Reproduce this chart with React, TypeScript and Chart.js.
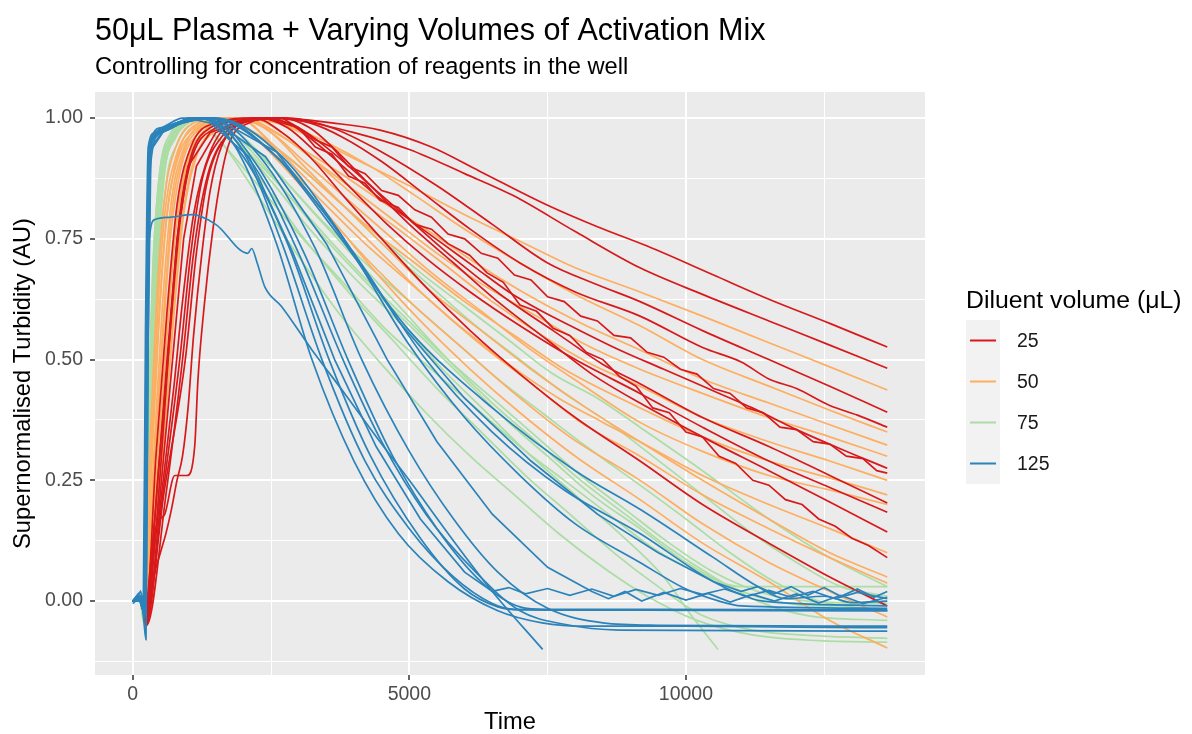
import React, { useEffect, useRef } from 'react';
import { Chart, registerables } from 'chart.js';

Chart.register(...registerables);

type Curve = number[][];

const chartTitle = '50μL Plasma + Varying Volumes of Activation Mix';
const chartSubtitle = 'Controlling for concentration of reagents in the well';
const xAxisTitle = 'Time';
const yAxisTitle = 'Supernormalised Turbidity (AU)';
const legendTitle = 'Diluent volume (μL)';

const groupLabels = ['25', '50', '75', '125'];
const groupColors = ['#D7191C', '#FDAE61', '#ABDDA4', '#2B83BA'];
// stacking: lower value drawn on top
const groupDrawOrder = [2, 3, 4, 1];

const xGridValues = [0, 2500, 5000, 7500, 10000, 12500];
const xTickLabels = ['0', '', '5000', '', '10000', ''];
const yGridValues = [-0.125, 0, 0.125, 0.25, 0.375, 0.5, 0.625, 0.75, 0.875, 1.0];
const yTickLabels = ['', '0.00', '', '0.25', '', '0.50', '', '0.75', '', '1.00'];

// Diluent 25 µL (red)
const curves25: Curve[] = [
  [[0,0],[170,0],[250,-0.04],[400,0.12],[550,0.35],[700,0.6],[850,0.8],[1050,0.92],[1400,0.98],[2000,0.995],[2700,1.0],[3600,0.99],[4470,0.975],[5400,0.94],[6270,0.89],[7490,0.82],[8400,0.775],[9300,0.735],[10500,0.675],[11500,0.625],[12600,0.575],[13640,0.526]],
  [[0,0],[160,0],[240,-0.05],[500,0.2],[750,0.45],[900,0.62],[1100,0.8],[1400,0.93],[1800,0.99],[2400,1.0],[3000,0.995],[4000,0.97],[5000,0.935],[6000,0.885],[6870,0.84],[8000,0.765],[9170,0.69],[10300,0.635],[11500,0.58],[12600,0.53],[13640,0.482]],
  [[0,0],[170,0],[250,-0.04],[520,0.2],[850,0.5],[1050,0.72],[1250,0.87],[1600,0.96],[2100,0.995],[2800,1.0],[3600,0.98],[4500,0.93],[5500,0.86],[6500,0.78],[7500,0.7],[8400,0.655],[9170,0.62],[10300,0.56],[11500,0.5],[12600,0.445],[13640,0.391]],
  [[0,0],[160,0],[240,-0.05],[400,0.14],[500,0.17],[580,0.18],[760,0.26],[980,0.26],[1120,0.32],[1180,0.46],[1300,0.62],[1450,0.77],[1600,0.88],[1750,0.95],[2100,0.99],[2600,1.0],[3200,0.99],[3800,0.96],[4500,0.91],[5300,0.84],[6100,0.77],[7000,0.7],[8000,0.64],[9170,0.59],[10300,0.525],[11000,0.495],[11500,0.46],[12000,0.44],[12600,0.405],[13100,0.385],[13640,0.36]],
  [[0,0],[150,0],[230,-0.04],[420,0.2],[620,0.5],[800,0.75],[1000,0.9],[1400,0.97],[2000,0.995],[2400,1.0],[2700,0.99],[3000,0.98],[3300,0.955],[3600,0.94],[3900,0.9],[4200,0.885],[4500,0.85],[4800,0.84],[5100,0.81],[5400,0.795],[5700,0.76],[6000,0.75],[6300,0.72],[6600,0.71],[6900,0.675],[7200,0.665],[7500,0.63],[7800,0.62],[8100,0.59],[8400,0.58],[8700,0.55],[9000,0.545],[9300,0.515],[9600,0.505],[9900,0.48],[10200,0.47],[10500,0.44],[10800,0.43],[11100,0.4],[11400,0.39],[11700,0.36],[12000,0.355],[12300,0.33],[12600,0.325],[12900,0.3],[13200,0.295],[13450,0.27],[13640,0.265]],
  [[0,0],[160,0],[240,-0.03],[450,0.25],[650,0.52],[850,0.78],[1050,0.91],[1500,0.98],[2200,1.0],[2800,0.99],[3300,0.95],[3800,0.9],[4400,0.84],[5000,0.79],[5600,0.74],[6200,0.69],[6800,0.64],[7400,0.6],[8000,0.565],[8800,0.52],[9600,0.48],[10400,0.44],[11200,0.4],[12000,0.355],[12800,0.315],[13640,0.275]],
  [[0,0],[170,0],[250,-0.05],[600,0.22],[900,0.5],[1100,0.72],[1350,0.88],[1750,0.97],[2400,1.0],[3000,0.98],[3600,0.93],[4300,0.86],[5000,0.79],[5800,0.71],[6700,0.63],[7600,0.56],[8500,0.49],[9170,0.45],[10300,0.38],[11500,0.32],[12600,0.26],[13640,0.203]],
  [[0,0],[160,0],[240,-0.04],[560,0.22],[950,0.5],[1150,0.72],[1350,0.87],[1750,0.97],[2300,1.0],[2800,0.98],[3300,0.93],[3900,0.86],[4600,0.78],[5300,0.71],[6100,0.64],[7000,0.57],[8000,0.5],[9170,0.43],[10300,0.36],[11500,0.29],[12600,0.235],[13640,0.184]],
  [[0,0],[170,0.005],[250,-0.05],[380,0.05],[500,0.1],[600,0.14],[700,0.19],[800,0.25],[900,0.3],[1000,0.4],[1100,0.55],[1250,0.72],[1400,0.85],[1600,0.94],[2000,0.99],[2700,1.0],[3200,0.98],[3700,0.93],[4300,0.86],[5000,0.78],[5800,0.7],[6600,0.62],[7500,0.54],[8300,0.47],[9170,0.41],[10300,0.34],[11500,0.27],[12600,0.205],[13640,0.143]],
  [[0,0],[160,0],[240,-0.04],[480,0.2],[720,0.5],[920,0.75],[1150,0.9],[1500,0.97],[2100,0.995],[2700,1.0],[3000,0.98],[3300,0.94],[3600,0.925],[3900,0.88],[4200,0.865],[4470,0.83],[4800,0.815],[5100,0.78],[5400,0.77],[5700,0.74],[6090,0.716],[6400,0.68],[6700,0.66],[7000,0.613],[7300,0.6],[7600,0.565],[7900,0.55],[8200,0.515],[8500,0.5],[8800,0.465],[9100,0.445],[9400,0.4],[9700,0.39],[10000,0.35],[10300,0.34],[10600,0.3],[10900,0.285],[11210,0.25],[11500,0.24],[11800,0.21],[12100,0.2],[12400,0.17],[12700,0.155],[13000,0.13],[13300,0.115],[13640,0.09]],
  [[0,0],[150,0],[230,-0.04],[420,0.3],[620,0.6],[800,0.82],[1050,0.94],[1500,0.99],[2200,1.0],[2700,0.97],[3200,0.92],[3800,0.84],[4500,0.75],[5300,0.65],[6100,0.56],[7000,0.47],[8000,0.38],[9170,0.29],[10300,0.2],[11500,0.12],[12600,0.05],[13640,-0.01]],
];

// Diluent 50 µL (orange)
const curves50: Curve[] = [
  [[0,0],[160,0],[230,-0.02],[380,0.25],[520,0.5],[680,0.75],[880,0.9],[1200,0.97],[1800,1.0],[2600,0.99],[3400,0.95],[4200,0.905],[5000,0.86],[6000,0.8],[7000,0.745],[8000,0.69],[9170,0.64],[10300,0.59],[11500,0.535],[12600,0.485],[13640,0.437]],
  [[0,0],[150,0.01],[220,-0.02],[340,0.3],[460,0.55],[600,0.78],[800,0.91],[1200,0.98],[1800,1.0],[2400,0.98],[3000,0.94],[3700,0.89],[4470,0.83],[5300,0.77],[6200,0.7],[7200,0.63],[8200,0.57],[9170,0.52],[10300,0.46],[11500,0.41],[12600,0.365],[13640,0.323]],
  [[0,0],[160,0],[230,-0.03],[420,0.25],[580,0.5],[750,0.75],[950,0.9],[1300,0.97],[2000,1.0],[2600,0.97],[3200,0.92],[3900,0.86],[4700,0.79],[5500,0.72],[6400,0.65],[7300,0.59],[8200,0.53],[9170,0.48],[10300,0.43],[11500,0.38],[12600,0.34],[13640,0.3]],
  [[0,0],[170,0],[240,-0.03],[480,0.25],[660,0.5],[830,0.73],[1050,0.89],[1450,0.97],[2100,1.0],[2700,0.97],[3300,0.91],[4000,0.84],[4800,0.77],[5600,0.7],[6500,0.62],[7400,0.55],[8300,0.49],[9170,0.445],[10300,0.38],[11500,0.33],[12600,0.29],[13640,0.25]],
  [[0,0],[150,0.01],[210,-0.02],[330,0.3],[450,0.6],[580,0.8],[780,0.92],[1100,0.98],[1600,1.0],[2200,0.97],[2800,0.92],[3500,0.85],[4300,0.77],[5100,0.7],[6000,0.62],[6900,0.55],[7800,0.48],[9170,0.4],[10300,0.34],[11500,0.29],[12600,0.255],[13640,0.22]],
  [[0,0],[160,0],[230,-0.03],[400,0.3],[550,0.58],[700,0.8],[900,0.92],[1250,0.98],[1900,1.0],[2500,0.97],[3100,0.91],[3800,0.84],[4600,0.76],[5400,0.68],[6300,0.6],[7200,0.52],[8100,0.45],[9170,0.37],[10300,0.31],[11500,0.26],[12600,0.23],[13640,0.2]],
  [[0,0],[150,0.01],[210,-0.02],[310,0.32],[430,0.62],[570,0.83],[780,0.94],[1100,0.99],[1600,1.0],[2100,0.97],[2700,0.91],[3400,0.83],[4200,0.74],[5000,0.66],[5900,0.57],[6800,0.49],[7700,0.42],[8500,0.37],[9170,0.33],[10300,0.26],[11500,0.2],[12600,0.15],[13640,0.1]],
  [[0,0],[170,0],[240,-0.03],[450,0.28],[620,0.55],[790,0.78],[1000,0.91],[1350,0.98],[1900,1.0],[2400,0.96],[3000,0.89],[3700,0.81],[4500,0.72],[5300,0.63],[6200,0.54],[7100,0.46],[8100,0.37],[9170,0.3],[10300,0.22],[11500,0.15],[12600,0.09],[13640,0.037]],
  [[0,0],[150,0.01],[220,-0.02],[350,0.3],[480,0.6],[620,0.8],[830,0.93],[1200,0.99],[1700,1.0],[2200,0.96],[2800,0.89],[3500,0.8],[4300,0.7],[5100,0.61],[6000,0.52],[6900,0.43],[7900,0.34],[9170,0.25],[10300,0.16],[11500,0.08],[12600,0.02],[13640,-0.033]],
  [[0,0],[160,0],[230,-0.03],[500,0.3],[700,0.6],[880,0.82],[1100,0.93],[1450,0.985],[1900,1.0],[2400,0.96],[2900,0.88],[3600,0.79],[4400,0.68],[5200,0.58],[6100,0.48],[7000,0.39],[8000,0.3],[9170,0.21],[10300,0.12],[11500,0.04],[12600,-0.04],[13640,-0.097]],
  [[0,0],[160,0.005],[230,-0.02],[380,0.3],[530,0.6],[690,0.82],[900,0.93],[1300,0.99],[2000,1.0],[2500,0.97],[3100,0.9],[3800,0.82],[4600,0.73],[5400,0.64],[6300,0.56],[7200,0.48],[8200,0.4],[9170,0.33],[10300,0.25],[11500,0.17],[12600,0.1],[13640,0.05]],
  [[0,0],[170,0],[240,-0.03],[540,0.3],[750,0.6],[920,0.8],[1150,0.92],[1500,0.98],[2100,1.0],[2800,0.985],[3500,0.95],[4300,0.9],[5100,0.84],[6000,0.77],[7000,0.7],[8000,0.635],[9170,0.57],[10300,0.5],[11500,0.445],[12600,0.395],[13640,0.35]],
];

// Diluent 75 µL (green)
const curves75: Curve[] = [
  [[0,0],[140,0],[200,-0.04],[300,0.3],[410,0.65],[540,0.87],[750,0.96],[1000,0.99],[1400,1.0],[2000,0.98],[2800,0.92],[3600,0.84],[4400,0.76],[5200,0.68],[6000,0.61],[6800,0.54],[7600,0.47],[8400,0.42],[9170,0.36],[10300,0.27],[11500,0.17],[12600,0.09],[13640,0.03]],
  [[0,0],[130,0.01],[190,-0.03],[270,0.35],[370,0.68],[490,0.88],[700,0.96],[1000,0.99],[1300,1.0],[1900,0.97],[2600,0.89],[3400,0.79],[4200,0.7],[5000,0.62],[5800,0.54],[6600,0.46],[7400,0.39],[8200,0.32],[9170,0.24],[10000,0.17],[10800,0.1],[11600,0.04],[12400,0.0],[13640,-0.02]],
  [[0,0],[140,0],[210,-0.05],[310,0.3],[420,0.66],[550,0.88],[760,0.96],[1000,0.99],[1200,1.0],[1800,0.96],[2500,0.87],[3200,0.77],[4000,0.67],[4800,0.58],[5600,0.48],[6400,0.39],[7200,0.3],[8000,0.22],[8800,0.14],[9600,0.05],[10100,-0.03],[10580,-0.1]],
  [[0,0],[150,0],[210,-0.04],[320,0.32],[440,0.66],[570,0.88],[780,0.96],[1000,0.99],[1200,1.0],[1700,0.96],[2400,0.86],[3100,0.75],[3900,0.64],[4700,0.54],[5500,0.44],[6300,0.35],[7100,0.26],[7900,0.18],[8700,0.1],[9500,0.03],[10300,-0.03],[11200,-0.06],[12400,-0.072],[13640,-0.077]],
  [[0,0],[140,0.01],[200,-0.03],[280,0.3],[380,0.65],[500,0.87],[700,0.96],[1000,0.99],[1300,1.0],[1900,0.96],[2600,0.87],[3400,0.76],[4300,0.65],[5100,0.56],[5900,0.47],[6700,0.38],[7500,0.3],[8300,0.22],[9170,0.15],[10000,0.08],[10800,0.03],[11600,0.0],[12600,-0.01],[13640,0.0]],
  [[0,0],[130,0],[190,-0.04],[270,0.35],[360,0.68],[480,0.88],[680,0.96],[900,0.99],[1100,1.0],[1600,0.95],[2200,0.85],[2900,0.73],[3700,0.6],[4500,0.49],[5300,0.39],[6100,0.3],[6900,0.22],[7700,0.14],[8500,0.07],[9300,0.01],[10200,-0.04],[11200,-0.07],[12400,-0.082],[13640,-0.085]],
  [[0,0],[150,0],[220,-0.03],[340,0.3],[460,0.64],[600,0.86],[820,0.95],[1100,0.99],[1500,1.0],[2200,0.97],[3000,0.9],[3800,0.82],[4600,0.73],[5400,0.65],[6200,0.57],[7000,0.5],[7800,0.43],[8600,0.37],[9400,0.3],[10300,0.22],[11200,0.14],[12000,0.08],[12800,0.03],[13640,0.01]],
  [[0,0],[140,0],[200,-0.04],[290,0.32],[390,0.66],[510,0.87],[720,0.96],[950,0.99],[1200,1.0],[1800,0.96],[2500,0.88],[3300,0.78],[4100,0.68],[4900,0.59],[5700,0.5],[6500,0.42],[7300,0.34],[8100,0.26],[8900,0.19],[9700,0.12],[10500,0.06],[11300,0.02],[12200,0.0],[13640,-0.005]],
  [[0,0],[140,0.01],[210,-0.03],[310,0.3],[420,0.65],[550,0.87],[770,0.96],[1000,0.99],[1300,1.0],[1800,0.97],[2500,0.9],[3300,0.8],[4100,0.7],[4900,0.6],[5700,0.5],[6500,0.41],[7300,0.33],[8100,0.25],[8900,0.18],[9700,0.11],[10500,0.05],[11300,0.0],[12200,-0.03],[13640,-0.04]],
  [[0,0],[130,0],[190,-0.03],[270,0.35],[370,0.7],[490,0.89],[690,0.97],[900,0.99],[1000,1.0],[1500,0.96],[2200,0.87],[3000,0.76],[3800,0.66],[4600,0.56],[5400,0.48],[6200,0.4],[7000,0.32],[7800,0.25],[8600,0.18],[9400,0.11],[10200,0.06],[11000,0.03],[12000,0.03],[13640,0.03]],
];

// Diluent 125 µL (blue)
const curves125: Curve[] = [
  [[0,0],[100,0.01],[170,0],[210,-0.02],[250,0.6],[300,0.93],[450,0.97],[800,0.99],[1200,1.0],[1600,0.98],[2000,0.91],[2600,0.74],[3240,0.5],[4000,0.29],[4800,0.14],[5700,0.04],[6600,-0.02],[7400,-0.045],[8200,-0.052],[10000,-0.052],[12000,-0.054],[13640,-0.055]],
  [[0,-0.005],[120,0.005],[180,-0.01],[220,-0.03],[260,0.5],[310,0.94],[500,0.98],[900,1.0],[1300,1.0],[2000,0.93],[2700,0.74],[3420,0.5],[4200,0.29],[5000,0.15],[5800,0.05],[6500,-0.005],[6900,-0.017],[9000,-0.017],[13640,-0.018]],
  [[0,0],[140,0.02],[200,0],[240,-0.02],[280,0.55],[330,0.94],[600,0.98],[1000,1.0],[1400,0.99],[2100,0.92],[2900,0.72],[3650,0.5],[4400,0.32],[5200,0.17],[6000,0.06],[6500,0.02],[6800,0.028],[7100,0.015],[7500,0.026],[7900,0.012],[8300,0.025],[8700,0.01],[9100,0.024],[9500,0.012],[9900,0.026],[10300,0.014],[10700,0.025],[11100,0.01],[11500,0.022],[11900,0.008],[12300,0.02],[12700,0.005],[13100,0.018],[13640,0.005]],
  [[0,0],[150,0.01],[200,-0.04],[240,-0.08],[270,0.4],[320,0.9],[500,0.97],[900,0.99],[1400,1.0],[2200,0.91],[3100,0.72],[3890,0.5],[4700,0.3],[5500,0.15],[6300,0.04],[7000,-0.012],[7500,-0.018],[13640,-0.02]],
  [[0,0],[130,0.005],[190,-0.02],[240,0.3],[290,0.9],[400,0.97],[800,0.99],[1400,1.0],[2300,0.92],[3300,0.73],[4140,0.5],[5000,0.31],[5800,0.17],[6600,0.06],[7500,-0.015],[8500,-0.045],[9500,-0.05],[13640,-0.052]],
  [[0,0],[150,0.01],[200,-0.02],[250,0.4],[300,0.75],[400,0.79],[700,0.795],[1070,0.8],[1500,0.78],[2080,0.72],[2150,0.73],[2250,0.7],[2390,0.65],[2690,0.61],[3240,0.52],[3830,0.43],[4470,0.33],[5000,0.25],[5700,0.14],[6500,0.02],[7410,-0.1]],
  [[0,0],[100,0.015],[180,0.005],[230,-0.03],[270,0.6],[320,0.95],[600,0.98],[1000,1.0],[1400,1.0],[2400,0.92],[3500,0.74],[4600,0.5],[5500,0.33],[6500,0.18],[7500,0.07],[8300,0.02],[8600,0.005],[8900,0.02],[9200,0.0],[9600,0.018],[10000,0.002],[10400,0.016],[10800,-0.002],[11200,0.014],[11600,0.0],[12000,0.015],[12400,-0.004],[12800,0.012],[13200,-0.005],[13640,0.008]],
  [[0,0],[150,0],[210,-0.03],[260,0.5],[310,0.93],[500,0.97],[900,0.99],[1500,1.0],[2600,0.92],[3800,0.75],[5000,0.53],[6000,0.38],[7000,0.26],[8000,0.16],[9170,0.08],[10000,0.025],[10600,0.0],[11000,-0.01],[13640,-0.015]],
  [[0,0],[160,0.005],[220,-0.02],[270,0.55],[320,0.94],[600,0.98],[1000,0.995],[1500,1.0],[2700,0.92],[4000,0.72],[5300,0.5],[6500,0.35],[7800,0.23],[9170,0.14],[10500,0.04],[11200,0.005],[11400,0.0],[13640,-0.01]],
  [[0,0],[140,0.01],[200,-0.01],[250,0.5],[300,0.93],[500,0.97],[900,0.99],[1400,1.0],[2500,0.93],[3700,0.76],[5000,0.56],[6500,0.4],[8000,0.27],[9170,0.19],[10500,0.09],[11300,0.03],[11800,0.005],[12500,0.01],[13000,-0.003],[13640,0.0]],
  [[0,0],[120,0],[200,-0.02],[240,0.5],[290,0.93],[450,0.97],[800,0.99],[1300,1.0],[2200,0.9],[3000,0.72],[3800,0.5],[4500,0.33],[5300,0.18],[6200,0.06],[7000,-0.02],[7800,-0.048],[8800,-0.06],[13640,-0.062]],
  [[0,0],[110,0.01],[190,-0.02],[230,0.55],[280,0.94],[400,0.97],[800,0.99],[1200,1.0],[2000,0.92],[2800,0.74],[3550,0.5],[4300,0.3],[5200,0.13],[6000,0.025],[6600,-0.012],[7000,-0.018],[13640,-0.02]],
  [[0,0],[130,0],[210,-0.03],[260,0.5],[310,0.93],[600,0.98],[1100,1.0],[1500,1.0],[2600,0.93],[3700,0.77],[4800,0.58],[6000,0.42],[7200,0.29],[8400,0.18],[9500,0.1],[10500,0.04],[11000,0.02],[11300,0.03],[11600,0.015],[11900,0.03],[12200,0.012],[12500,0.028],[12800,0.01],[13100,0.025],[13400,0.008],[13640,0.02]],
];

const allGroups = [curves25, curves50, curves75, curves125];
// curves whose raw readings are jagged (drawn with straight segments)
const noisyCurves = [[4, 9], [], [], [2, 6, 12]];

const FONT = '"Liberation Sans", Arial, Helvetica, sans-serif';

const ggPlugin = {
  id: 'ggDecor',
  beforeDraw(chart: any) {
    const { ctx, chartArea: a } = chart;
    ctx.save();
    ctx.fillStyle = '#FFFFFF';
    ctx.fillRect(0, 0, chart.width, chart.height);
    ctx.fillStyle = '#EBEBEB';
    ctx.fillRect(a.left, a.top, a.right - a.left, a.bottom - a.top);
    ctx.restore();
  },
  afterDraw(chart: any) {
    const { ctx, chartArea: a } = chart;
    ctx.save();
    ctx.textBaseline = 'alphabetic';
    ctx.fillStyle = '#000000';
    ctx.textAlign = 'left';
    ctx.font = `30.5px ${FONT}`;
    ctx.fillText(chartTitle, a.left, 40);
    ctx.font = `23.7px ${FONT}`;
    ctx.fillText(chartSubtitle, a.left, 74);
    ctx.textAlign = 'center';
    ctx.font = `23.7px ${FONT}`;
    ctx.fillText(xAxisTitle, (a.left + a.right) / 2, 729);
    ctx.save();
    ctx.translate(30, (a.top + a.bottom) / 2);
    ctx.rotate(-Math.PI / 2);
    ctx.fillText(yAxisTitle, 0, 0);
    ctx.restore();
    const lx = 966;
    ctx.textAlign = 'left';
    ctx.font = `24.8px ${FONT}`;
    ctx.fillText(legendTitle, lx, 308);
    const keyW = 34, keyH = 41, top0 = 320;
    ctx.fillStyle = '#F2F2F2';
    ctx.fillRect(lx, top0, keyW, keyH * groupLabels.length);
    groupLabels.forEach((lab, i) => {
      const cy = top0 + keyH * i + keyH / 2;
      ctx.strokeStyle = groupColors[i];
      ctx.lineWidth = 2;
      ctx.beginPath();
      ctx.moveTo(lx + 4, cy);
      ctx.lineTo(lx + keyW - 4, cy);
      ctx.stroke();
      ctx.fillStyle = '#1A1A1A';
      ctx.font = `19.5px ${FONT}`;
      ctx.textBaseline = 'middle';
      ctx.fillText(lab, lx + keyW + 17, cy + 1);
      ctx.textBaseline = 'alphabetic';
    });
    ctx.restore();
  },
};

export default function App() {
  const ref = useRef<HTMLCanvasElement | null>(null);
  useEffect(() => {
    if (!ref.current) return;
    const datasets: any[] = [];
    allGroups.forEach((curves, g) => {
      curves.forEach((c, k) => {
        const noisy = noisyCurves[g].includes(k);
        datasets.push({
          label: `${groupLabels[g]}-${k}`,
          data: c.map(([x, y]) => ({ x, y })),
          borderColor: groupColors[g],
          backgroundColor: groupColors[g],
          borderWidth: 1.7,
          pointRadius: 0,
          fill: false,
          cubicInterpolationMode: noisy ? 'default' : 'monotone',
          tension: 0,
          order: groupDrawOrder[g],
        });
      });
    });
    const isMajorX = (v: number) => xTickLabels[xGridValues.indexOf(v)] !== '';
    const isMajorY = (v: number) => {
      const i = yGridValues.findIndex((g) => Math.abs(g - v) < 1e-9);
      return i >= 0 && yTickLabels[i] !== '';
    };
    const chart = new Chart(ref.current, {
      type: 'line',
      data: { datasets },
      options: {
        animation: false,
        responsive: false,
        devicePixelRatio: 1,
        parsing: false as any,
        layout: { padding: { left: 0, right: 267, top: 92, bottom: 0 } },
        plugins: { legend: { display: false }, tooltip: { enabled: false }, title: { display: false } },
        scales: {
          x: {
            type: 'linear',
            min: -682,
            max: 14322,
            afterBuildTicks: (s: any) => { s.ticks = xGridValues.map((v) => ({ value: v })); },
            afterFit: (s: any) => { s.height = 59; },
            border: { display: false },
            grid: {
              color: '#FFFFFF',
              lineWidth: (c: any) => (isMajorX(c.tick.value) ? 2 : 1),
              drawTicks: true,
              tickLength: 5,
              tickColor: (c: any) => (isMajorX(c.tick.value) ? '#333333' : 'rgba(0,0,0,0)'),
              tickWidth: 1.5,
            },
            ticks: {
              autoSkip: false,
              maxRotation: 0,
              padding: 3,
              color: '#4D4D4D',
              font: { family: FONT, size: 19.5 },
              callback: (v: any) => {
                const i = xGridValues.indexOf(Number(v));
                return i >= 0 ? xTickLabels[i] : '';
              },
            },
          },
          y: {
            type: 'linear',
            min: -0.153,
            max: 1.054,
            afterBuildTicks: (s: any) => { s.ticks = yGridValues.map((v) => ({ value: v })); },
            afterFit: (s: any) => { s.width = 95; },
            border: { display: false },
            grid: {
              color: '#FFFFFF',
              lineWidth: (c: any) => (isMajorY(c.tick.value) ? 2 : 1),
              drawTicks: true,
              tickLength: 5,
              tickColor: (c: any) => (isMajorY(c.tick.value) ? '#333333' : 'rgba(0,0,0,0)'),
              tickWidth: 1.5,
            },
            ticks: {
              autoSkip: false,
              padding: 7,
              color: '#4D4D4D',
              font: { family: FONT, size: 19.5 },
              callback: (v: any) => {
                const i = yGridValues.findIndex((g) => Math.abs(g - Number(v)) < 1e-9);
                return i >= 0 ? yTickLabels[i] : '';
              },
            },
          },
        },
      },
      plugins: [ggPlugin],
    });
    return () => chart.destroy();
  }, []);
  return (
    <div style={{ position: 'absolute', left: 0, top: 0, width: 1192, height: 734, background: '#FFFFFF' }}>
      <canvas ref={ref} width={1192} height={734} style={{ display: 'block' }} />
    </div>
  );
}
